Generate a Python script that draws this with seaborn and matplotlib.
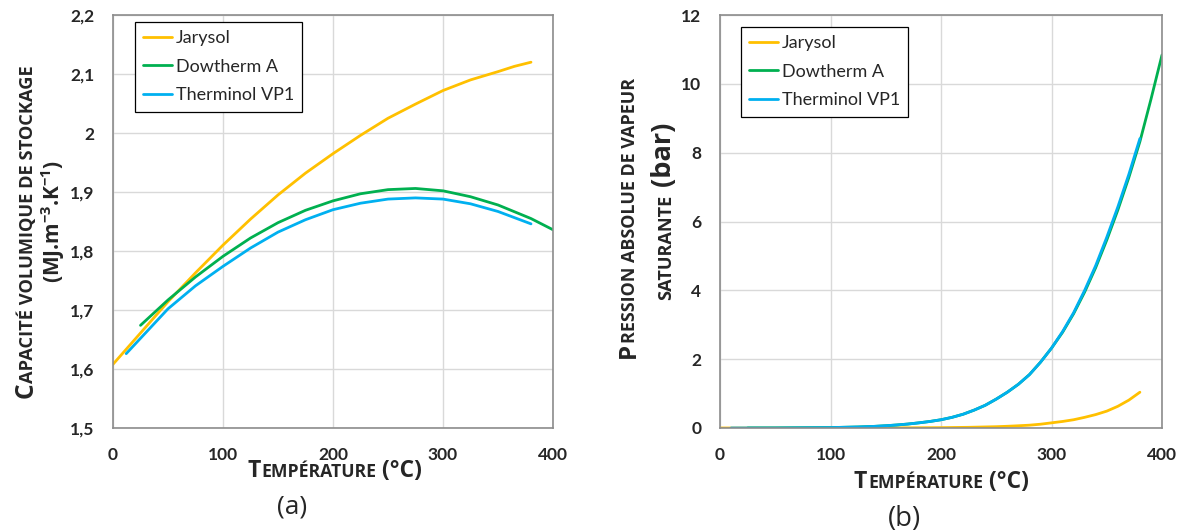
import matplotlib
matplotlib.use("Agg")
import matplotlib.pyplot as plt
from matplotlib.lines import Line2D
from matplotlib.ticker import MultipleLocator
from matplotlib.font_manager import FontProperties, findfont, get_font
import pandas as pd
import seaborn as sns

fluids = ["Jarysol", "Dowtherm A", "Therminol VP1"]
colors = ["#FFC000", "#00B050", "#00B0F0"]

# (a) capacite volumique de stockage (MJ.m-3.K-1)
t_cap_jarysol = [0, 25, 50, 75, 100, 125, 150, 175, 200, 225, 250, 275, 300, 325, 350, 365, 380]
cap_jarysol = [1.608, 1.661, 1.714, 1.763, 1.810, 1.854, 1.895, 1.932, 1.965, 1.996, 2.025, 2.049,
               2.072, 2.090, 2.104, 2.113, 2.120]
t_cap_dowtherm = [25, 50, 75, 100, 125, 150, 175, 200, 225, 250, 275, 300, 325, 350, 380, 400]
cap_dowtherm = [1.674, 1.717, 1.756, 1.791, 1.822, 1.848, 1.869, 1.885, 1.897, 1.904, 1.906, 1.902,
                1.892, 1.878, 1.855, 1.836]
t_cap_therminol = [12, 25, 50, 75, 100, 125, 150, 175, 200, 225, 250, 275, 300, 325, 350, 380]
cap_therminol = [1.626, 1.652, 1.702, 1.741, 1.774, 1.805, 1.832, 1.853, 1.870, 1.881, 1.888, 1.890,
                 1.888, 1.880, 1.867, 1.846]

# (b) pression absolue de vapeur saturante (bar)
t_p_jarysol = [0, 50, 100, 150, 200, 225, 250, 260, 270, 280, 290, 300, 310, 320, 330, 340, 350,
               360, 370, 380]
p_jarysol = [0, 0, 0.001, 0.003, 0.01, 0.02, 0.038, 0.05, 0.065, 0.082, 0.11, 0.15, 0.19, 0.24,
             0.31, 0.39, 0.49, 0.63, 0.81, 1.04]
t_p_dowtherm = [25, 50, 100, 125, 140, 150, 160, 170, 180, 190, 200, 210, 220, 230, 240, 250, 260,
                270, 280, 290, 300, 310, 320, 330, 340, 350, 360, 370, 380, 390, 400]
p_dowtherm = [0, 0.001, 0.012, 0.03, 0.048, 0.066, 0.088, 0.115, 0.15, 0.19, 0.24, 0.31, 0.40, 0.52,
              0.66, 0.84, 1.04, 1.27, 1.55, 1.91, 2.32, 2.78, 3.32, 3.95, 4.66, 5.46, 6.33, 7.28,
              8.32, 9.55, 10.84]
t_p_therminol = [10, 50, 100, 125, 140, 150, 160, 170, 180, 190, 200, 210, 220, 230, 240, 250, 260,
                 270, 280, 290, 300, 310, 320, 330, 340, 350, 360, 370, 380]
p_therminol = [0, 0.001, 0.012, 0.03, 0.048, 0.066, 0.088, 0.115, 0.15, 0.19, 0.24, 0.31, 0.40, 0.52,
               0.66, 0.84, 1.04, 1.27, 1.55, 1.91, 2.32, 2.8, 3.35, 4.0, 4.72, 5.54, 6.42, 7.37, 8.41]

cap_ticks = [1.5, 1.6, 1.7, 1.8, 1.9, 2.0, 2.1, 2.2]
cap_ticklabels = ["1,5", "1,6", "1,7", "1,8", "1,9", "2", "2,1", "2,2"]
p_ticks = [0, 2, 4, 6, 8, 10, 12]
t_ticks = [0, 100, 200, 300, 400]

sns.set_theme(style="white")
plt.rcParams["font.family"] = ["Lato", "DejaVu Sans"]
plt.rcParams["mathtext.fontset"] = "custom"
plt.rcParams["mathtext.bf"] = "Open Sans:bold"
plt.rcParams["mathtext.rm"] = "Open Sans"

LABEL_FONT = "Open Sans"

W, H = 1182, 532
fig = plt.figure(figsize=(W / 100, H / 100), dpi=100)
fig.patch.set_facecolor("white")


def long_df(temps, values):
    frames = [pd.DataFrame({"T": t, "v": v, "fluide": f}) for f, t, v in zip(fluids, temps, values)]
    return pd.concat(frames, ignore_index=True)


def style_axes(ax, yticks, yticklabels, ymin, ymax, yminor):
    ax.set_xlim(0, 400)
    ax.set_ylim(ymin, ymax)
    ax.set_xticks(t_ticks)
    ax.set_xticklabels([str(t) for t in t_ticks])
    ax.set_yticks(yticks)
    ax.set_yticklabels(yticklabels)
    ax.xaxis.set_minor_locator(MultipleLocator(20))
    ax.yaxis.set_minor_locator(MultipleLocator(yminor))
    ax.grid(True, which="major", color="#D9D9D9", linewidth=1.0)
    ax.set_axisbelow(True)
    for s in ax.spines.values():
        s.set_color("#8C8C8C")
        s.set_linewidth(1.2)
    ax.tick_params(which="major", direction="in", length=0, labelsize=12.5, pad=13.5)
    ax.tick_params(which="minor", direction="in", length=4, width=1, color="#8C8C8C")
    for lab in ax.get_xticklabels() + ax.get_yticklabels():
        lab.set_fontweight("bold")
    ax.set_xlabel("")
    ax.set_ylabel("")


def add_legend(ax, dx, dy):
    handles = [Line2D([], [], color=c, lw=2) for c in colors]
    leg = ax.legend(handles, fluids, loc="upper left",
                    bbox_to_anchor=(dx, dy), borderaxespad=0, fontsize=13,
                    frameon=True, fancybox=False, framealpha=1, edgecolor="black",
                    handlelength=1.6, handletextpad=0.2, labelspacing=0.7,
                    borderpad=0.45)
    leg.get_frame().set_linewidth(0.9)


# (a)
ax1 = fig.add_axes([113 / W, 1 - 428 / H, 440 / W, 413 / H])
sns.lineplot(data=long_df([t_cap_jarysol, t_cap_dowtherm, t_cap_therminol],
                          [cap_jarysol, cap_dowtherm, cap_therminol]),
             x="T", y="v", hue="fluide", palette=colors, hue_order=fluids,
             estimator=None, sort=False, linewidth=2, legend=False, ax=ax1)
style_axes(ax1, cap_ticks, cap_ticklabels, 1.5, 2.2, 0.02)
add_legend(ax1, 22 / 440, 1 - 7 / 413)

# (b)
ax2 = fig.add_axes([720 / W, 1 - 428 / H, 442 / W, 413 / H])
sns.lineplot(data=long_df([t_p_jarysol, t_p_dowtherm, t_p_therminol],
                          [p_jarysol, p_dowtherm, p_therminol]),
             x="T", y="v", hue="fluide", palette=colors, hue_order=fluids,
             estimator=None, sort=False, linewidth=2, legend=False, ax=ax2)
style_axes(ax2, p_ticks, [str(p) for p in p_ticks], 0, 12, 0.4)
add_legend(ax2, 21 / 442, 1 - 12 / 413)


def advance(s, fs, weight):
    # pen advance of a string and bearing of its first glyph, in pixels
    f = get_font(findfont(FontProperties(family=LABEL_FONT, weight=weight)))
    f.set_size(fs, 100)
    bear, adv = None, 0.0
    for ch in s:
        g = f.load_char(ord(ch))
        if bear is None:
            bear = g.horiBearingX / 64
        adv += g.linearHoriAdvance / 65536
    return bear, adv


def rich_text(pieces, xc, yc, length, rotation=0, weight="bold"):
    # small caps style label: pieces (text, relative size) on one baseline,
    # scaled to a given length and centred on (xc, yc), pixels from top-left
    total = sum(advance(s, 10 * rel, weight)[1] for s, rel in pieces)
    k = 10 * length / total
    pen = -length / 2
    for s, rel in pieces:
        fs = k * rel
        bear, adv = advance(s, fs, weight)
        p = pen + bear
        if rotation:
            xy = (xc / W, 1 - (yc - p) / H)
        else:
            xy = ((xc + p) / W, 1 - yc / H)
        fig.text(*xy, s, fontsize=fs, fontweight=weight, family=LABEL_FONT, rotation=rotation,
                 rotation_mode="anchor", ha="left", va="baseline")
        pen += adv


def plain_text(s, xc, yc, length, rotation=0, weight="bold"):
    r = fig.canvas.get_renderer()
    t = fig.text(xc / W, 1 - yc / H, s, fontsize=10, fontweight=weight, family=LABEL_FONT,
                 rotation=rotation, rotation_mode="anchor", ha="center", va="baseline")
    bb = t.get_window_extent(r)
    t.set_fontsize(10 * length / (bb.height if rotation else bb.width))


rich_text([("C", 1.35), ("APACITÉ VOLUMIQUE DE STOCKAGE", 1.0)], 33, 231, 336, rotation=90)
plain_text(r"(MJ.m$^{\mathbf{-3}}$.K$^{\mathbf{-1}}$)", 60, 221, 124, rotation=90)
rich_text([("P", 1.35), ("RESSION ABSOLUE DE VAPEUR", 1.0)], 635, 220, 280, rotation=90)
rich_text([("SATURANTE", 1.0), (" (bar)", 1.5)], 671, 212, 178, rotation=90)

rich_text([("T", 1.3), ("EMPÉRATURE", 1.0), (" (°C)", 1.3)], 334, 477, 175)
rich_text([("T", 1.3), ("EMPÉRATURE", 1.0), (" (°C)", 1.3)], 941, 488, 175)

plain_text("(a)", 292, 514, 30, weight="normal")
plain_text("(b)", 904, 526, 33, weight="normal")

fig.savefig("out.png", dpi=100, facecolor="white")
